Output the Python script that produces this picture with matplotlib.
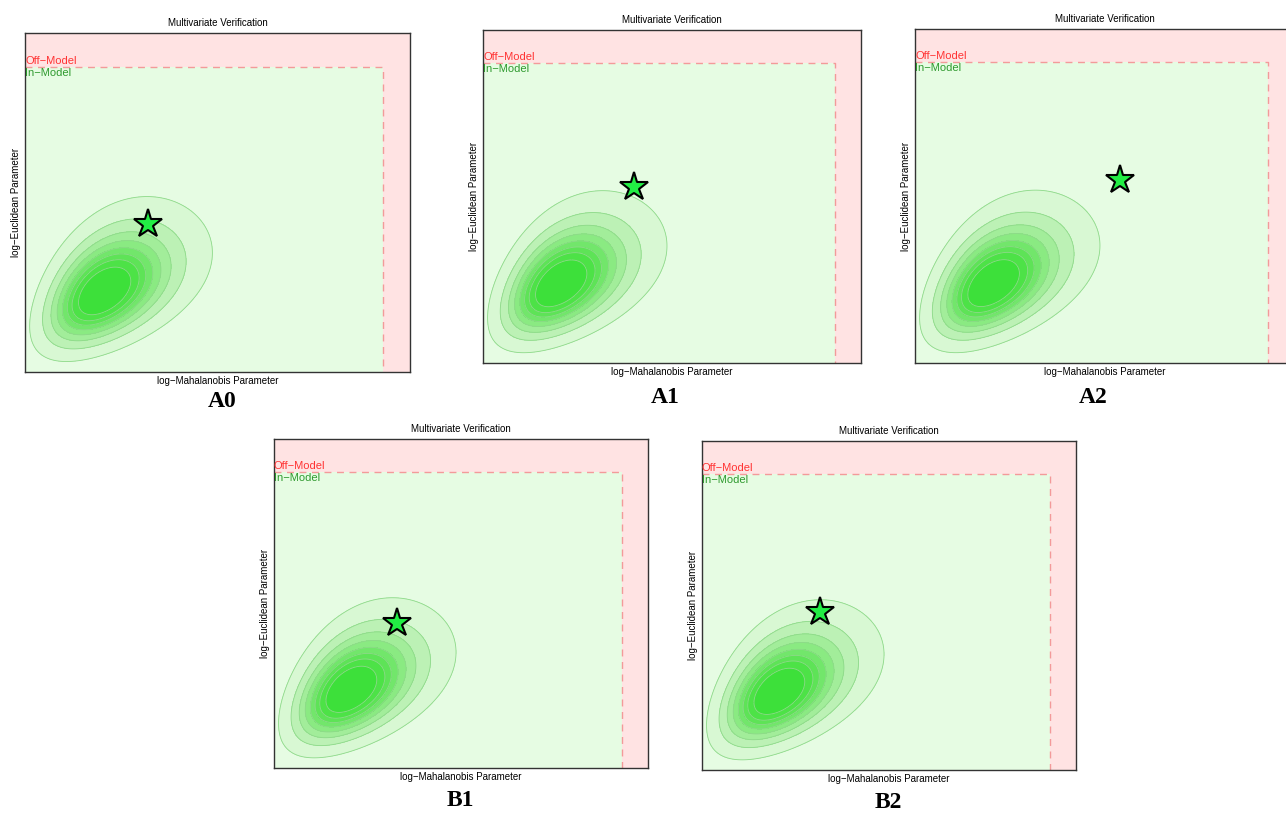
import numpy as np
import matplotlib
matplotlib.use('Agg')
from matplotlib import pyplot as plt

# панели и положение звезды (доли осей)
panels = ['A0', 'A1', 'A2', 'B1', 'B2']
star_x = [0.319, 0.400, 0.540, 0.329, 0.316]
star_y = [0.437, 0.530, 0.548, 0.440, 0.480]

# граница "In-Model"
thr_x = 0.93
thr_y = 0.90

# облако обучающих данных: логнормальная плотность (сдвиг, масштаб, асимметрия)
shift_x, scale_x, skew_x = -0.379, 0.60, 0.15
shift_y, scale_y, skew_y = -0.517, 0.77, 0.12
lat_rho = 0.45

level_frac = [0.03, 0.11, 0.21, 0.31, 0.41, 0.51, 0.61, 0.74, 1.01]
band_colors = ['#d8f8d3', '#bcf1b5', '#a2ed9a', '#8aea82', '#72e66b',
               '#5ee357', '#4de247', '#3de03a']

# пиксельные рамки осей: левый, правый, верх, низ
boxes = [(25, 410, 33, 372), (483, 861, 30, 363), (915, 1295, 29, 363),
         (274, 648, 439, 768), (702, 1076, 441, 770)]
label_pos = [(222, 402), (665, 397), (1093, 397), (460, 800), (888, 803)]

W, H = 1286, 814
fig = plt.figure(figsize=(W / 100, H / 100), dpi=100)

gx, gy = np.meshgrid(np.linspace(0, 1, 400), np.linspace(0, 1, 400))
z1 = np.log((gx - shift_x) / scale_x) / skew_x
z2 = np.log((gy - shift_y) / scale_y) / skew_y
q = (z1 ** 2 - 2 * lat_rho * z1 * z2 + z2 ** 2) / (1 - lat_rho ** 2)
dens = np.exp(-0.5 * q) / ((gx - shift_x) * (gy - shift_y))
levels = [f * dens.max() for f in level_frac]

for i, name in enumerate(panels):
    l, r, t, b = boxes[i]
    ax = fig.add_axes([l / W, (H - b) / H, (r - l) / W, (b - t) / H])
    ax.set_xlim(0, 1)
    ax.set_ylim(0, 1)
    ax.set_facecolor('#ffe3e3')
    ax.fill_between([0, thr_x], 0, thr_y, color='#e6fce3', lw=0, zorder=0)
    ax.plot([0, thr_x, thr_x], [thr_y, thr_y, 0], ls=(0, (5, 4)), color='#f39a9a', lw=1)
    ax.contourf(gx, gy, dens, levels=levels, colors=band_colors, zorder=1)
    ax.contour(gx, gy, dens, levels=levels[:-1], colors='#8ed98a', linewidths=0.6, zorder=2)
    ax.plot(star_x[i], star_y[i], marker='*', markersize=21, markerfacecolor='#22ee44',
            markeredgecolor='black', markeredgewidth=1.5, zorder=3)
    ax.text(0, thr_y + 0.003, 'Off\u2212Model', color='#ff3333', fontsize=8,
            family='Liberation Sans', va='bottom', ha='left')
    ax.text(0, thr_y - 0.003, 'In\u2212Model', color='#2f9a2f', fontsize=8,
            family='Liberation Sans', va='top', ha='left')
    ax.set_xticks([])
    ax.set_yticks([])
    for s in ax.spines.values():
        s.set_color('#333333')
        s.set_linewidth(1)
    ax.set_title('Multivariate Verification', fontsize=7, family='Liberation Sans', pad=5)
    ax.set_xlabel('log\u2212Mahalanobis Parameter', fontsize=7, family='Liberation Sans', labelpad=3)
    ax.set_ylabel('log\u2212Euclidean Parameter', fontsize=7, family='Liberation Sans', labelpad=3)
    fig.text(label_pos[i][0] / W, 1 - label_pos[i][1] / H, name, fontsize=17,
             family='Liberation Serif', weight='bold', ha='center', va='center')

fig.savefig('out.png', dpi=100)
